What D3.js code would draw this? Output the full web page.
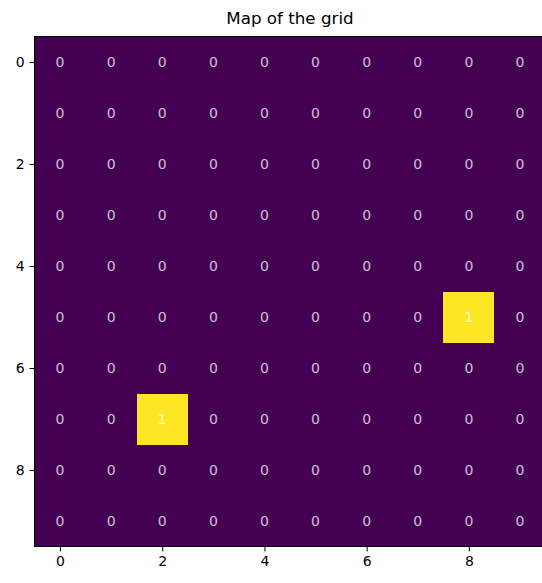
<!DOCTYPE html>
<html><head><meta charset="utf-8">
<script src="https://cdn.jsdelivr.net/npm/d3@7"></script>
<style>body{margin:0;background:#fff;} svg{display:block;font-family:"DejaVu Sans",sans-serif;}</style>
</head><body>
<script>
const rows = [0,1,2,3,4,5,6,7,8,9];
const cols = [0,1,2,3,4,5,6,7,8,9];
const grid = [
  [0,0,0,0,0,0,0,0,0,0],
  [0,0,0,0,0,0,0,0,0,0],
  [0,0,0,0,0,0,0,0,0,0],
  [0,0,0,0,0,0,0,0,0,0],
  [0,0,0,0,0,0,0,0,0,0],
  [0,0,0,0,0,0,0,0,1,0],
  [0,0,0,0,0,0,0,0,0,0],
  [0,0,1,0,0,0,0,0,0,0],
  [0,0,0,0,0,0,0,0,0,0],
  [0,0,0,0,0,0,0,0,0,0]
];
const tickVals = [0,2,4,6,8];
const title = "Map of the grid";

const W = 542, H = 583;
const m = {left:34.5, top:36.5};
const cw = 51.1, ch = 51.0;
const svg = d3.select("body").append("svg").attr("width",W).attr("height",H);

const x = d3.scaleLinear().domain([-0.5,9.5]).range([m.left, m.left+cw*10]);
const y = d3.scaleLinear().domain([-0.5,9.5]).range([m.top, m.top+ch*10]);
const colorOf = v => v===1 ? "#fde725" : "#440154";

const cells = [];
rows.forEach(r => cols.forEach(c => cells.push({r, c, v: grid[r][c]})));

// background in the low colour so cell seams don't show
svg.append("rect").attr("x", x(-0.5)).attr("y", y(-0.5))
  .attr("width", x(9.5)-x(-0.5)).attr("height", y(9.5)-y(-0.5))
  .attr("fill", colorOf(0));

const g = svg.append("g");
g.selectAll("rect").data(cells).join("rect")
  .attr("x", d => x(d.c-0.5)).attr("y", d => y(d.r-0.5))
  .attr("width", x(1)-x(0)).attr("height", y(1)-y(0))
  .attr("fill", d => colorOf(d.v))
  .attr("shape-rendering","crispEdges");

g.selectAll("text.v").data(cells).join("text").attr("class","v")
  .attr("x", d => x(d.c)).attr("y", d => y(d.r))
  .attr("text-anchor","middle").attr("dominant-baseline","central")
  .attr("font-size", 14).attr("fill","#ffffff").attr("fill-opacity",0.75)
  .text(d => d.v);

svg.append("rect").attr("x", x(-0.5)).attr("y", y(-0.5))
  .attr("width", x(9.5)-x(-0.5)).attr("height", y(9.5)-y(-0.5))
  .attr("fill","none").attr("stroke","#000").attr("stroke-width",1);

const xAxis = svg.append("g").attr("transform",`translate(0,${y(9.5)})`)
  .call(d3.axisBottom(x).tickValues(tickVals).tickSize(4.9).tickPadding(4.9).tickFormat(d3.format("d")));
const yAxis = svg.append("g").attr("transform",`translate(${x(-0.5)},0)`)
  .call(d3.axisLeft(y).tickValues(tickVals).tickSize(4.9).tickPadding(4.9).tickFormat(d3.format("d")));
[xAxis,yAxis].forEach(a => {
  a.select(".domain").remove();
  a.selectAll("text").attr("font-size",14).attr("fill","#000").attr("font-family","DejaVu Sans, sans-serif");
  a.selectAll("line").attr("stroke","#000");
});

svg.append("text").attr("x", x(4.5)).attr("y", 24)
  .attr("text-anchor","middle").attr("font-size",16.7).attr("fill","#000")
  .text(title);
</script>
</body></html>
